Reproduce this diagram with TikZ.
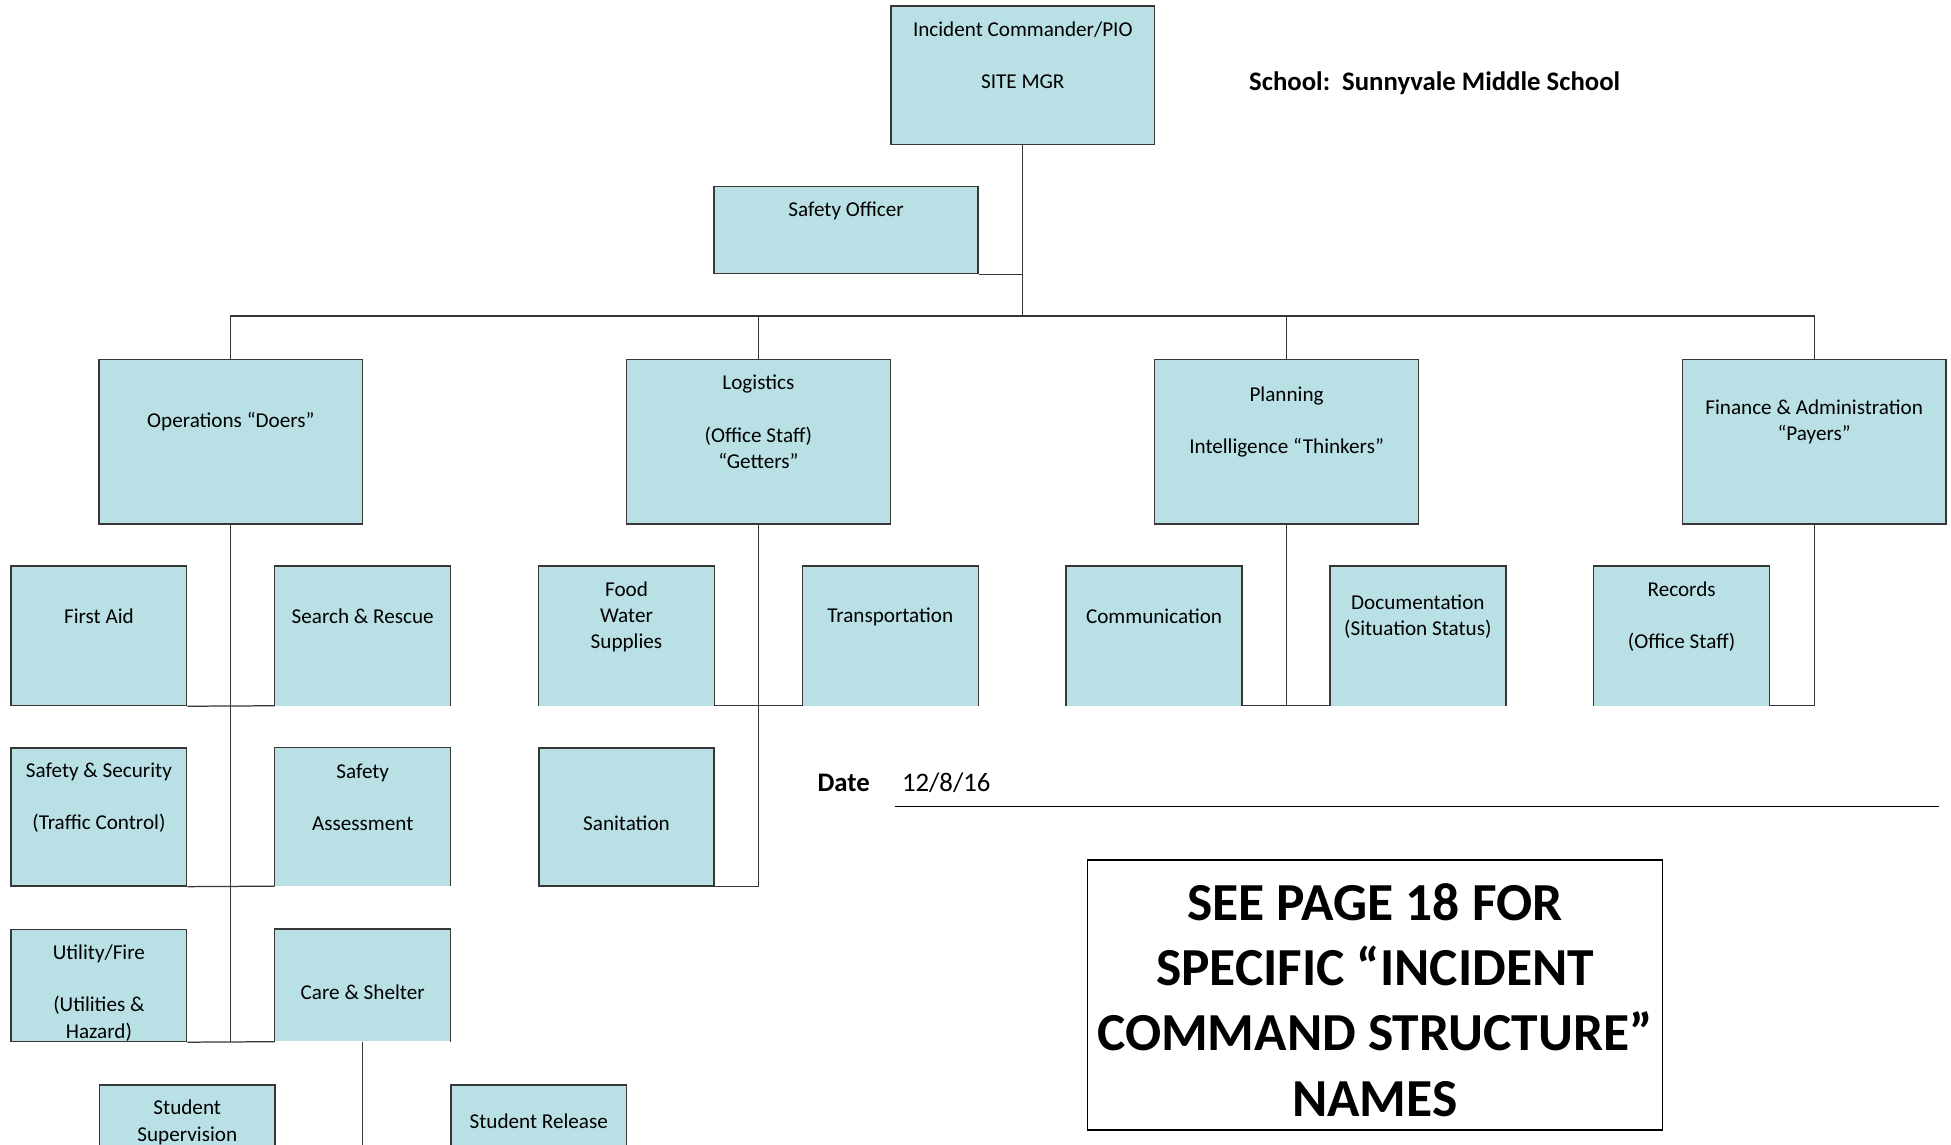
\documentclass[tikz,border=0pt]{standalone}
\usepackage{fontspec}
\setmainfont{Carlito}
\definecolor{boxblue}{RGB}{185,224,228}
\definecolor{linegray}{RGB}{55,55,55}

\begin{document}
\begin{tikzpicture}[
    x=1pt, y=-1pt,
    box/.style={
        draw=linegray,
        fill=boxblue,
        rectangle,
        line width=1.2pt,
        inner sep=0pt},
    openbox/.style={
        fill=boxblue,
        rectangle,
        inner sep=0pt},
    wide/.style={minimum width=212pt},
    narrow/.style={minimum width=141pt},
    txt/.style={
        font=\fontsize{17}{21}\selectfont,
        align=center,
        yshift=-1.5pt,
        inner sep=0pt},
    big/.style={
        font=\fontsize{21.5}{26}\selectfont,
        yshift=-1pt,
        inner sep=0pt},
    edge/.style={draw=linegray, line width=1pt}]
    \useasboundingbox (0,0) rectangle (1568,920);
    \clip (0,0) rectangle (1568,920);

    \node[box, wide, minimum height=111pt] (ic) at (822,60.5) {};
    \node[txt] (icT) at (822,43) {Incident Commander/PIO\\[21pt]SITE MGR};
    \node[box, wide, minimum height=70pt] (so) at (680,185) {};
    \node[txt] (soT) at (680,168) {Safety Officer};

    \node[big, font=\fontsize{21.5}{26}\selectfont\bfseries] (school) at (1153,65.5) {School:\ \ Sunnyvale Middle School};

    % section chiefs
    \node[box, wide, minimum height=132pt] (ops) at (185.5,355) {};
    \node[txt] (opsT) at (185.5,337.5) {Operations “Doers”};
    \node[box, wide, minimum height=132pt] (log) at (609.5,355) {};
    \node[txt] (logT) at (609.5,337.5) {Logistics\\[21pt](Office Staff)\\“Getters”};
    \node[box, wide, minimum height=132pt] (plan) at (1034,355) {};
    \node[txt] (planT) at (1034,337.5) {Planning\\[21pt]Intelligence “Thinkers”};
    \node[box, wide, minimum height=132pt] (fin) at (1458,355) {};
    \node[txt] (finT) at (1458,337.5) {Finance \& Administration\\“Payers”};

    % units
    \node[box, narrow, minimum height=112pt] (fa) at (79.5,511) {};
    \node[txt] (faT) at (79.5,494) {First Aid};
    \node[openbox, narrow, minimum height=112pt] (sr) at (291.5,511) {};
    \node[txt] (srT) at (291.5,494) {Search \& Rescue};
    \node[openbox, narrow, minimum height=112pt] (fws) at (503.5,511) {};
    \node[txt] (fwsT) at (503.5,494) {Food\\Water\\Supplies};
    \node[openbox, narrow, minimum height=112pt] (tr) at (715.5,511) {};
    \node[txt] (trT) at (715.5,494) {Transportation};
    \node[openbox, narrow, minimum height=112pt] (com) at (927.5,511) {};
    \node[txt] (comT) at (927.5,494) {Communication};
    \node[openbox, narrow, minimum height=112pt] (doc) at (1139.5,511) {};
    \node[txt] (docT) at (1139.5,494) {Documentation\\(Situation Status)};
    \node[openbox, narrow, minimum height=112pt] (rec) at (1351.5,511) {};
    \node[txt] (recT) at (1351.5,494) {Records\\[21pt](Office Staff)};

    \node[box, narrow, minimum height=111pt] (ss) at (79.5,656.5) {};
    \node[txt] (ssT) at (79.5,639.5) {Safety \& Security\\[21pt](Traffic Control)};
    \node[openbox, narrow, minimum height=111pt] (sa) at (291.5,656.5) {};
    \node[txt] (saT) at (291.5,639.5) {Safety\\[21pt]Assessment};
    \node[box, narrow, minimum height=111pt] (san) at (503.5,656.5) {};
    \node[txt] (sanT) at (503.5,660) {Sanitation};

    \node[box, narrow, minimum height=90pt] (uf) at (79.5,792) {};
    \node[txt] (ufT) at (79.5,796.5) {Utility/Fire\\[21pt](Utilities \&\\Hazard)};
    \node[openbox, narrow, minimum height=90pt] (cs) at (291.5,792) {};
    \node[txt] (csT) at (291.5,796) {Care \& Shelter};

    \node[openbox, narrow, minimum height=70pt] (sup) at (150.5,907) {};
    \node[txt] (supT) at (150.5,900.5) {Student\\Supervision};
    \node[openbox, narrow, minimum height=70pt] (rel) at (433,907) {};
    \node[txt] (relT) at (433,900) {Student Release};

    \foreach \n in {sr,fws,tr,com,doc,rec,sa,cs,sup,rel}
        \draw[edge, line width=1.2pt] (\n.south west) |- (\n.north east) -- (\n.south east);

    % connectors
    \coordinate (bus) at (822,254);
    \draw[edge] (ic.south) -- (bus);
    \draw[edge] (so.south east) -- (so.south east -| ic.south);
    \draw[edge] (ops.north) |- (bus) -| (fin.north);
    \draw[edge] (log.north) -- (log.north |- bus);
    \draw[edge] (plan.north) -- (plan.north |- bus);

    \draw[edge] (ops.south) -- (ops.south |- uf.south);
    \draw[edge] (fa.south east) -- (sr.south west);
    \draw[edge] (ss.south east) -- (sa.south west);
    \draw[edge] (uf.south east) -- (cs.south west);

    \draw[edge] (log.south) |- (san.south east);
    \draw[edge] (fws.south east) -- (tr.south west);

    \draw[edge] (plan.south) -- (plan.south |- com.south);
    \draw[edge] (com.south east) -- (doc.south west);

    \draw[edge] (fin.south) |- (rec.south east);

    \coordinate (csdown) at (291.5,925);
    \draw[edge] (cs.south) -- (csdown);

    % date and note
    \node[big, font=\fontsize{21.5}{26}\selectfont\bfseries] (date) at (678,628) {Date};
    \node[big] (dateV) at (760.5,628) {12/8/16};
    \coordinate (lineL) at (719,648);
    \coordinate (lineR) at (1558,648);
    \draw[line width=1.2pt] (lineL) -- (lineR);

    \node[draw, line width=1.2pt, minimum width=462pt, minimum height=217pt, inner sep=0pt] (note) at (1105,799.5) {};
    \node[font=\fontsize{43}{52.5}\selectfont\bfseries, align=center, inner sep=0pt] (noteT) at (1105,803.5) {SEE PAGE 18 FOR\\SPECIFIC “INCIDENT\\COMMAND STRUCTURE”\\NAMES};
\end{tikzpicture}
\end{document}
